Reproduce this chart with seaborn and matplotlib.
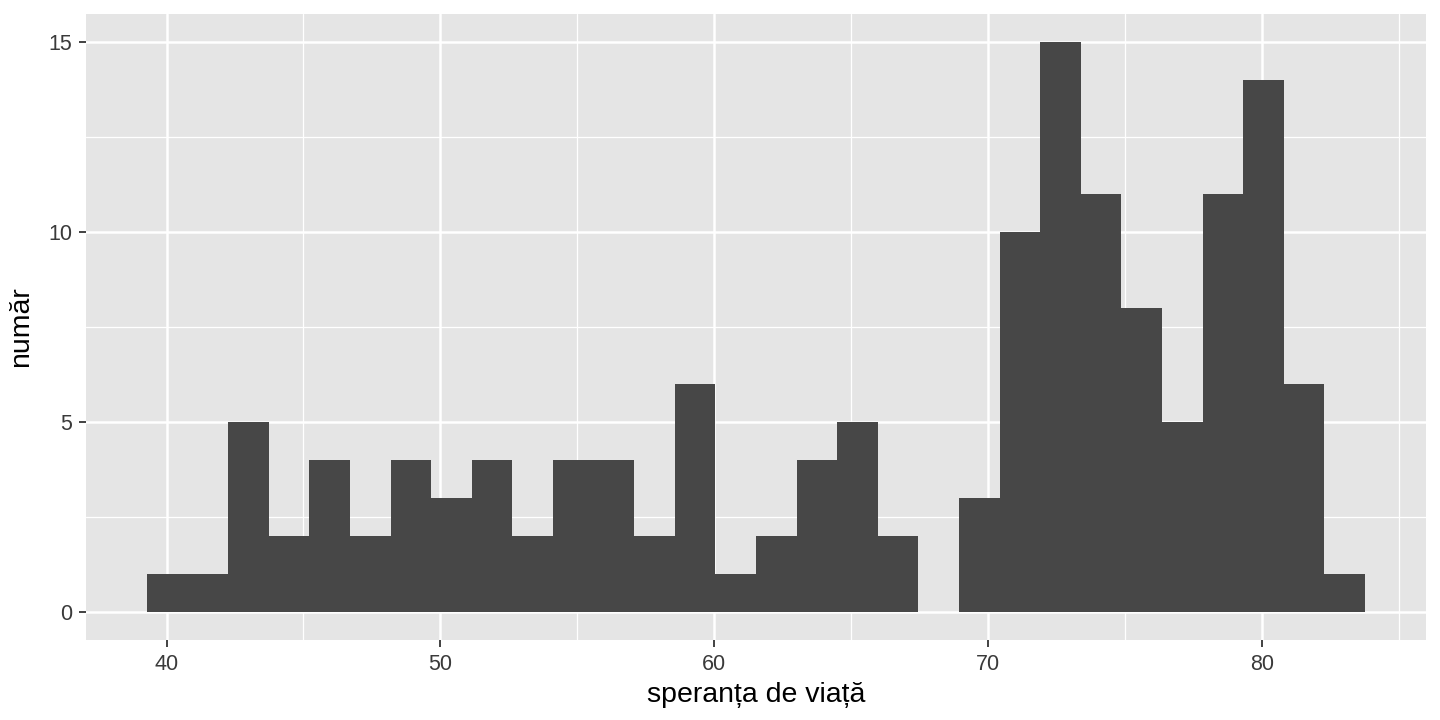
import numpy as np
import pandas as pd
import seaborn as sns
import matplotlib.pyplot as plt
from matplotlib.ticker import MultipleLocator

# histogram bins (30 bins, ggplot default) and counts
bin_start = 39.284
bin_end = 83.756
counts = [1, 1, 5, 2, 4, 2, 4, 3, 4, 2,
          4, 4, 2, 6, 1, 2, 4, 5, 2, 0,
          3, 10, 15, 11, 8, 5, 11, 14, 6, 1]

edges = np.linspace(bin_start, bin_end, len(counts) + 1)
centers = (edges[:-1] + edges[1:]) / 2
df = pd.DataFrame({'speranta': centers, 'n': counts})

sns.set_theme(style='darkgrid')
plt.rcParams['font.family'] = ['Liberation Sans', 'DejaVu Sans']

fig = plt.figure(figsize=(14.4, 7.2), dpi=100)
ax = fig.add_axes([86 / 1440, 1 - 640 / 720, 1340 / 1440, 626 / 720])

sns.histplot(data=df, x='speranta', weights='n', bins=len(counts),
             binrange=(bin_start, bin_end), ax=ax,
             color='#474747', alpha=1, edgecolor='none', linewidth=0)

ax.set_facecolor('#E5E5E5')
ax.set_xlim(37.06, 85.98)
ax.set_ylim(-0.75, 15.75)
ax.xaxis.set_major_locator(MultipleLocator(10))
ax.xaxis.set_minor_locator(MultipleLocator(5))
ax.yaxis.set_major_locator(MultipleLocator(5))
ax.yaxis.set_minor_locator(MultipleLocator(2.5))
ax.grid(which='major', color='white', linewidth=1.8)
ax.grid(which='minor', color='white', linewidth=0.9)
ax.set_axisbelow(True)
for s in ax.spines.values():
    s.set_visible(False)

ax.tick_params(which='major', length=5, width=1.3, color='#333333',
               labelsize=15.5, labelcolor='#3A3A3A', pad=5,
               bottom=True, left=True)
ax.tick_params(which='minor', length=0)

ax.set_xlabel('speranța de viață', fontsize=20.5, color='black', labelpad=5)
ax.set_ylabel('număr', fontsize=20.5, color='black', labelpad=10)

fig.savefig('out.png', dpi=100)
